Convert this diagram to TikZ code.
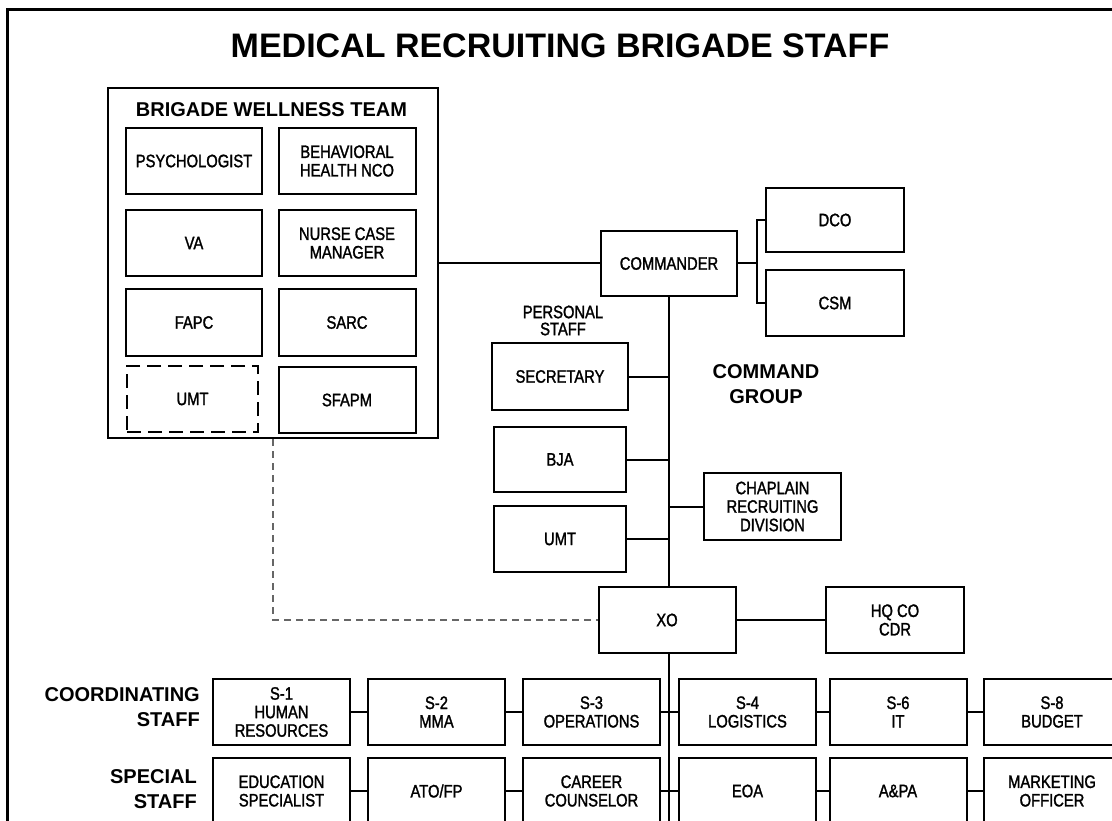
\documentclass[tikz,border=0pt]{standalone}
\usepackage{fontspec}
\setmainfont{Liberation Sans}
\newfontfamily\narrowsans[FakeStretch=0.82,FakeBold=1.5]{Liberation Sans}
\newfontfamily\headsans{Liberation Sans Bold}
\begin{document}
\begin{tikzpicture}[x=1pt,y=-1pt,
  unit/.style={draw, line width=2pt, inner sep=0pt, align=center,
    font=\narrowsans\fontsize{18}{18.5}\selectfont,
    minimum width=137pt, minimum height=66pt},
  dashunit/.style={unit, dash pattern=on 14pt off 7pt},
  conn/.style={line width=2pt},
  link/.style={line width=1.6pt, draw=black!60, dash pattern=on 7pt off 5pt},
  heading/.style={font=\headsans\fontsize{20}{25}\selectfont, inner sep=0pt},
  plainlabel/.style={font=\narrowsans\fontsize{18}{17}\selectfont, align=center, inner sep=0pt}]

\useasboundingbox (0,0) rectangle (1112,821);
\clip (0,0) rectangle (1112,821);
\fill[white] (0,0) rectangle (1112,821);

% outer frame
\draw[line width=3pt] (7.5,10) rectangle (1140,850);

% title
\node[font=\headsans\fontsize{34}{40}\selectfont, inner sep=0pt] (title) at (560,46) {MEDICAL RECRUITING BRIGADE STAFF};

% brigade wellness team
\node[draw, line width=2pt, minimum width=330pt, minimum height=350pt, inner sep=0pt] (wel) at (273,263) {};
\node[heading, align=center] (weltitle) at (271.5,110) {BRIGADE WELLNESS TEAM};
\node[unit, minimum width=136pt] (psy) at (194,161) {PSYCHOLOGIST};
\node[unit] (bhn) at (347,161) {BEHAVIORAL\\HEALTH NCO};
\node[unit, minimum width=136pt] (va) at (194,243) {VA};
\node[unit] (ncm) at (347,243) {NURSE CASE\\MANAGER};
\node[unit, minimum width=136pt] (fapc) at (194,322.5) {FAPC};
\node[unit] (sarc) at (347,322.5) {SARC};
\node[dashunit, minimum width=131pt] (umtw) at (192.5,399) {UMT};
\node[unit] (sfapm) at (347,400) {SFAPM};

% command group
\node[unit, minimum width=136pt, minimum height=65pt] (cmd) at (669,263.5) {COMMANDER};
\node[unit, minimum width=138pt, minimum height=64pt] (dco) at (835,220) {DCO};
\node[unit, minimum width=138pt] (csm) at (835,303) {CSM};
\node[plainlabel] (pers) at (563,320.5) {PERSONAL\\STAFF};
\node[unit, minimum width=136pt, minimum height=67pt] (sec) at (560,376.5) {SECRETARY};
\node[heading, align=center] (cgrp) at (766,384.5) {COMMAND\\GROUP};
\node[unit, minimum width=132pt, minimum height=65pt] (bja) at (560,459.5) {BJA};
\node[unit, minimum width=132pt] (umt) at (560,539) {UMT};
\node[unit, minimum height=67pt] (chap) at (772.5,506.5) {CHAPLAIN\\RECRUITING\\DIVISION};
\node[unit] (xo) at (667,620) {XO};
\node[unit, minimum width=138pt] (hq) at (895,620) {HQ CO\\CDR};

% coordinating staff row
\node[heading, align=right, anchor=east] (coordlbl) at (200,707.5) {COORDINATING\\STAFF};
\node[unit] (s1) at (281.5,712) {S-1\\HUMAN\\RESOURCES};
\node[unit] (s2) at (436.5,712) {S-2\\MMA};
\node[unit] (s3) at (591.5,712) {S-3\\OPERATIONS};
\node[unit] (s4) at (747.5,712) {S-4\\LOGISTICS};
\node[unit] (s6) at (898,712) {S-6\\IT};
\node[unit] (s8) at (1052,712) {S-8\\BUDGET};

% special staff row
\node[heading, align=right, anchor=east] (speclbl) at (197,789) {SPECIAL\\STAFF};
\node[unit] (edu) at (281.5,791) {EDUCATION\\SPECIALIST};
\node[unit] (ato) at (436.5,791) {ATO/FP};
\node[unit] (car) at (591.5,791) {CAREER\\COUNSELOR};
\node[unit] (eoa) at (747.5,791) {EOA};
\node[unit] (apa) at (898,791) {A\&PA};
\node[unit] (mkt) at (1052,791) {MARKETING\\OFFICER};

% connectors
\coordinate (bk) at (757,263.5);
\coordinate (tbot) at (669,850);
\draw[conn] (wel.east |- cmd.west) -- (cmd.west);
\draw[conn] (cmd.east) -- (bk);
\draw[conn] (dco.west) -- (dco.west -| bk) -- (csm.west -| bk) -- (csm.west);
\draw[conn] (cmd.south) -- (cmd.south |- xo.north);
\draw[conn] (cmd.south |- xo.south) -- (tbot);
\draw[conn] (sec.east) -- (sec.east -| cmd.south);
\draw[conn] (bja.east) -- (bja.east -| cmd.south);
\draw[conn] (umt.east) -- (umt.east -| cmd.south);
\draw[conn] (chap.west) -- (chap.west -| cmd.south);
\draw[conn] (xo.east) -- (hq.west);
\draw[conn] (s1.east) -- (s2.west);
\draw[conn] (s2.east) -- (s3.west);
\draw[conn] (s3.east) -- (s4.west);
\draw[conn] (s4.east) -- (s6.west);
\draw[conn] (s6.east) -- (s8.west);
\draw[conn] (edu.east) -- (ato.west);
\draw[conn] (ato.east) -- (car.west);
\draw[conn] (car.east) -- (eoa.west);
\draw[conn] (eoa.east) -- (apa.west);
\draw[conn] (apa.east) -- (mkt.west);
\draw[link] (wel.south) |- (xo.west);
\end{tikzpicture}
\end{document}
